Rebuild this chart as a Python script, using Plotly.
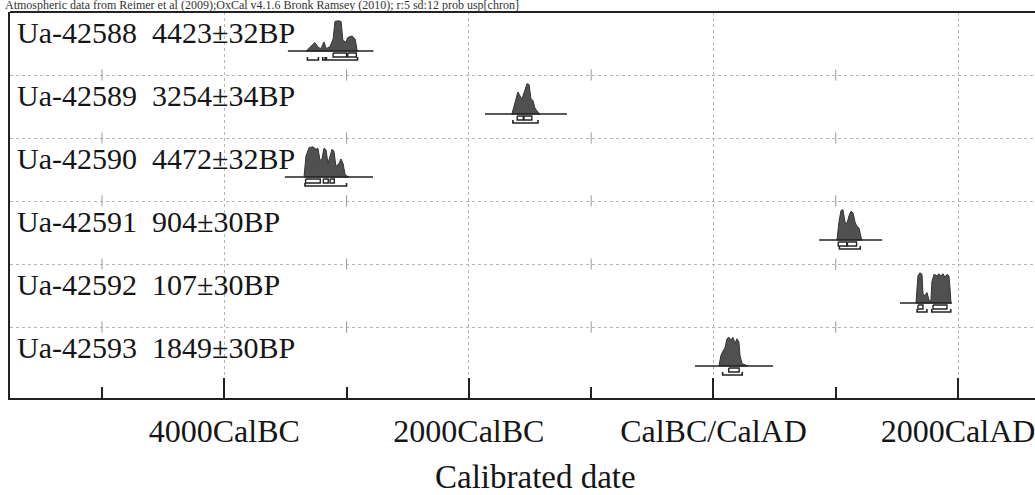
import plotly.graph_objects as go

# ---------------- data ----------------
sample_labels = ["Ua-42588\u00a0\u00a04423±32BP", "Ua-42589\u00a0\u00a03254±34BP", "Ua-42590\u00a0\u00a04472±32BP",
                 "Ua-42591\u00a0\u00a0904±30BP", "Ua-42592\u00a0\u00a0107±30BP", "Ua-42593\u00a0\u00a01849±30BP"]

# calibrated distributions (year, relative probability)
s1_years = [-3330, -3290, -3260, -3230, -3210, -3185, -3165, -3135, -3110, -3095, -3070, -3045, -3030, -3005, -2990, -2955, -2930, -2915, -2905]
s1_prob = [0, 0.15, 0.28, 0.12, 0.08, 0.3, 0.08, 0.15, 0.4, 0.98, 1.0, 0.98, 0.35, 0.3, 0.45, 0.5, 0.4, 0.05, 0]
s2_years = [-1648, -1623, -1599, -1582, -1566, -1541, -1525, -1508, -1492, -1476, -1460, -1435, -1419]
s2_prob = [0, 0.35, 0.73, 0.6, 0.5, 0.8, 1.0, 0.98, 0.5, 0.45, 0.2, 0.06, 0]
s3_years = [-3348, -3332, -3307, -3275, -3250, -3234, -3217, -3201, -3185, -3168, -3152, -3136, -3119, -3103, -3087, -3062, -3046, -3029, -3013, -2997, -2980]
s3_prob = [0, 0.7, 0.97, 1.0, 0.92, 0.95, 0.55, 0.6, 0.95, 0.9, 0.45, 0.7, 0.92, 0.85, 0.35, 0.45, 0.6, 0.45, 0.1, 0.03, 0]
s4_years = [1010, 1026, 1043, 1059, 1075, 1092, 1108, 1124, 1141, 1157, 1173, 1190, 1206, 1214]
s4_prob = [0, 0.6, 0.98, 1.0, 0.6, 0.55, 0.8, 0.95, 0.9, 0.6, 0.45, 0.4, 0.1, 0]
s5_years = [1656, 1672, 1688, 1705, 1713, 1729, 1746, 1762, 1778, 1786, 1803, 1827, 1843, 1860, 1876, 1893, 1909, 1925, 1934, 1942]
s5_prob = [0, 0.9, 1.0, 0.95, 0.3, 0.25, 0.35, 0.1, 0.05, 0.7, 0.95, 0.9, 0.97, 0.9, 0.97, 0.85, 0.95, 0.9, 0.5, 0]
s6_years = [45, 61, 78, 94, 110, 127, 143, 159, 176, 192, 208, 217, 233, 258, 274, 282]
s6_prob = [0, 0.35, 0.5, 0.6, 0.9, 0.95, 0.85, 0.95, 0.75, 0.9, 0.8, 0.35, 0.08, 0.05, 0.03, 0]

# plotted baseline extent of each sample
baseline_start = [-3480, -1868, -3504, 864, 1525, -151]
baseline_end = [-2780, -1198, -2784, 1379, 1950, 486]

# 68.2% and 95.4% ranges
ranges_68 = [[(-3110, -3000), (-2990, -2920)],
             [(-1605, -1555), (-1550, -1485)],
             [(-3335, -3215), (-3190, -3150), (-3135, -3100)],
             [(1020, 1090), (1095, 1170)],
             [(1672, 1713), (1795, 1909)],
             [(125, 210)]]
ranges_95 = [[(-3320, -3230), (-3195, -3175), (-3165, -2910)],
             [(-1640, -1435)],
             [(-3340, -3000)],
             [(1030, 1200)],
             [(1665, 1745), (1785, 1940)],
             [(75, 235)]]

major_ticks = [-4000, -2000, 0, 2000]
major_labels = ["4000CalBC", "2000CalBC", "CalBC/CalAD", "2000CalAD"]
minor_ticks = [-5000, -3000, -1000, 1000]
row_lines = [1, 2, 3, 4, 5]

header_text = "Atmospheric data from Reimer et al (2009);OxCal v4.1.6 Bronk Ramsey (2010); r:5 sd:12 prob usp[chron]"
x_title = "Calibrated date"

years_all = [s1_years, s2_years, s3_years, s4_years, s5_years, s6_years]
probs_all = [s1_prob, s2_prob, s3_prob, s4_prob, s5_prob, s6_prob]

# ---------------- layout constants ----------------
W, H = 1035, 495
M_L, M_R, M_T, M_B = 10, 0, 12, 97
X_RANGE = [-5752, 2629]
Y_RANGE = [6.127, 0]
PX = 1 / 63.0            # one pixel in row units
BASE_OFF = 0.62          # baseline offset inside row
PEAK_H = 0.48            # height of full probability
SERIF = "Liberation Serif, Times New Roman, serif"

fig = go.Figure()

for i in range(6):
    base = i + BASE_OFF
    ys = years_all[i]
    ps = probs_all[i]
    # filled distribution
    fx = list(ys) + [ys[-1], ys[0]]
    fy = [base - p * PEAK_H for p in ps] + [base, base]
    fig.add_trace(go.Scatter(x=fx, y=fy, fill="toself", fillcolor="#505050",
                             line=dict(color="#333333", width=1), mode="lines",
                             hoverinfo="skip", showlegend=False))
    # baseline
    fig.add_trace(go.Scatter(x=[baseline_start[i], baseline_end[i]], y=[base, base],
                             mode="lines", line=dict(color="#222222", width=1.6),
                             hoverinfo="skip", showlegend=False))
    # 68.2% boxes
    for a, b in ranges_68[i]:
        y1, y2 = base + 2 * PX, base + 6 * PX
        fig.add_trace(go.Scatter(x=[a, a, b, b, a], y=[y1, y2, y2, y1, y1], fill="toself",
                                 fillcolor="white", mode="lines",
                                 line=dict(color="#222222", width=1.4),
                                 hoverinfo="skip", showlegend=False))
    # 95.4% brackets
    bx, by = [], []
    for a, b in ranges_95[i]:
        yl = base + 9 * PX
        bx += [a, a, b, b, None]
        by += [yl - 3 * PX, yl, yl, yl - 3 * PX, None]
    fig.add_trace(go.Scatter(x=bx, y=by, mode="lines", line=dict(color="#222222", width=1.6),
                             hoverinfo="skip", showlegend=False))
    # label
    fig.add_annotation(x=(15 - M_L) / (W - M_L - M_R), xref="paper", y=i + 0.33, yref="y",
                       text=sample_labels[i], showarrow=False, xanchor="left", yanchor="middle",
                       font=dict(family=SERIF, size=30, color="#151515"))

# small tick marks on the row separators
mx, my = [], []
for r in row_lines:
    for t in minor_ticks:
        mx.append(t)
        my.append(r)
fig.add_trace(go.Scatter(x=mx, y=my, mode="markers",
                         marker=dict(symbol="line-ns", size=8, line=dict(color="#999999", width=1)),
                         hoverinfo="skip", showlegend=False))

fig.update_xaxes(range=X_RANGE, tickvals=major_ticks, ticktext=major_labels,
                 ticks="inside", ticklen=20, tickwidth=1.5, tickcolor="#222222",
                 showline=True, linecolor="#222222", linewidth=2, mirror=False,
                 showgrid=True, gridcolor="#b5b5b5", gridwidth=1, griddash="dot",
                 zeroline=False, ticklabelstandoff=4, automargin=False,
                 ticklabeloverflow="allow",
                 tickfont=dict(family=SERIF, size=32, color="#151515"),
                 minor=dict(tickvals=minor_ticks, ticks="inside", ticklen=11, tickwidth=1.5,
                            tickcolor="#222222", showgrid=False))
fig.update_yaxes(range=Y_RANGE, tickvals=row_lines, showticklabels=False, ticks="",
                 showline=True, linecolor="#222222", linewidth=2, mirror=False,
                 showgrid=True, gridcolor="#b5b5b5", gridwidth=1, griddash="dot",
                 zeroline=False, automargin=False)

# top frame line
fig.add_shape(type="line", xref="paper", yref="paper", x0=0, x1=1, y0=1, y1=1,
              line=dict(color="#222222", width=2))

plot_h = H - M_T - M_B
fig.add_annotation(x=(535 - M_L) / (W - M_L - M_R), xref="paper", y=(H - M_B - 477) / plot_h, yref="paper",
                   text=x_title, showarrow=False, xanchor="center", yanchor="middle",
                   font=dict(family=SERIF, size=33, color="#151515"))
fig.add_annotation(x=(3 - M_L) / (W - M_L - M_R), xref="paper", y=(H - M_B - 5.5) / plot_h, yref="paper",
                   text=header_text, showarrow=False, xanchor="left", yanchor="middle",
                   font=dict(family=SERIF, size=12, color="#333333"))

fig.update_layout(width=W, height=H, margin=dict(l=M_L, r=M_R, t=M_T, b=M_B),
                  paper_bgcolor="white", plot_bgcolor="white", showlegend=False)

fig.write_html("out.html", config={"displayModeBar": False},
               post_script="document.body.style.margin='0px';document.body.style.padding='0px';"
                           "document.body.style.overflow='hidden';")
